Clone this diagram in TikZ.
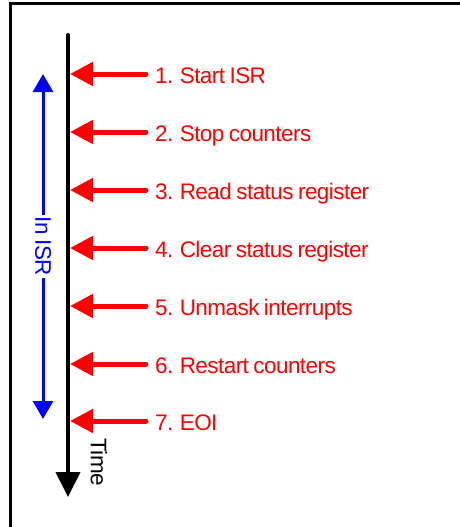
\documentclass[tikz,border=0pt]{standalone}
\usepackage{fontspec}
\setmainfont{Liberation Sans}[LetterSpace=-2.5]
\usetikzlibrary{arrows.meta}
% label face: large sans with tight word spaces
\newcommand{\labelface}{\fontsize{22.5}{26}\selectfont\spaceskip=0.2em plus 0.1em\relax}
\begin{document}
\begin{tikzpicture}[x=1pt,y=-1pt,
  lbl/.style={font=\labelface, inner sep=0pt},
  steplabel/.style={lbl, text=red, anchor=base west},
  stepline/.style={draw=red, line width=5pt, line cap=round,
    -{Triangle[length=23pt,width=23pt]}},
  timeline/.style={draw=black, line width=4pt, line cap=round,
    -{Triangle[length=25pt,width=24pt]}},
  isrspan/.style={draw=blue, line width=3pt,
    {Triangle[length=18pt,width=20pt]}-{Triangle[length=18pt,width=20pt]}},
  frame/.style={draw=black, line width=3pt}]
  % page extent
  \useasboundingbox (0,0) rectangle (459,527);
  % open frame: top and left edges only
  \coordinate (fbl) at (10,528);
  \coordinate (ftl) at (10,4);
  \coordinate (ftr) at (460,4);
  \draw[frame] (fbl) -- (ftl) -- (ftr);

  % time axis
  \coordinate (tstart) at (68,35);
  \coordinate (tend) at (68,497);
  \draw[timeline] (tstart) -- (tend);
  \node[lbl, rotate=-90] (time) at (99,462) {Time};

  % ISR span
  \coordinate (isrtop) at (43,74);
  \coordinate (isrbot) at (43,419);
  \draw[isrspan] (isrbot) -- (isrtop)
    node[midway, lbl, text=blue, fill=white, rotate=-90, inner xsep=2pt] (isr) {In ISR};

  % steps
  \foreach \i/\y/\t in {1/74/{1. Start ISR},
                        2/132/{2. Stop counters},
                        3/190/{3. Read status register},
                        4/248/{4. Clear status register},
                        5/306/{5. Unmask interrupts},
                        6/364/{6. Restart counters},
                        7/421/{7. EOI}}{
    \coordinate (s\i) at (146,\y);
    \coordinate (e\i) at (70,\y);
    \node[steplabel] (l\i) at (155,\y+9) {\t};
    \draw[stepline] (s\i) -- (e\i);
  }
\end{tikzpicture}
\end{document}
